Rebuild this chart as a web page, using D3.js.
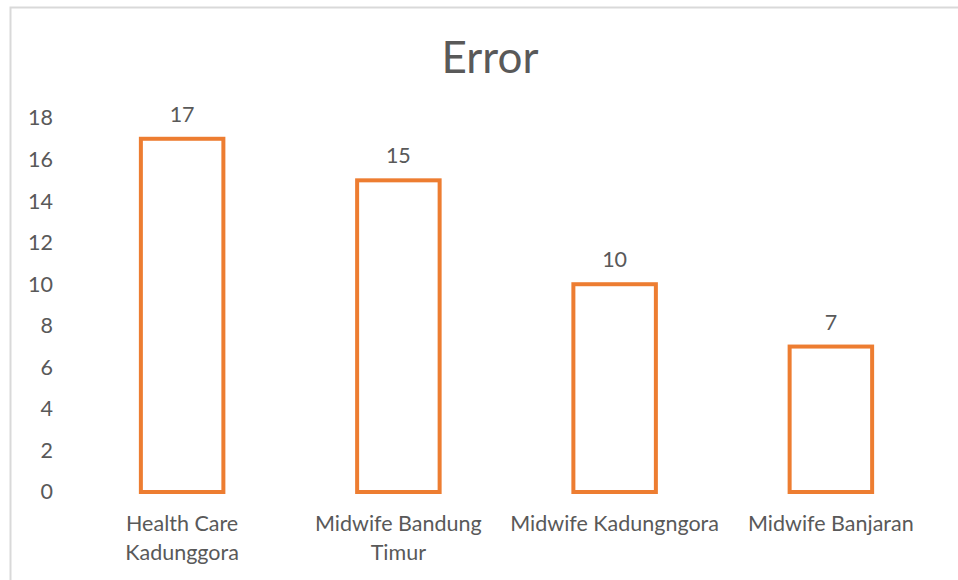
<!DOCTYPE html>
<html>
<head>
<meta charset="utf-8">
<script src="https://cdn.jsdelivr.net/npm/d3@7.9.0/dist/d3.min.js"></script>
<style>
  body { margin: 0; background: #fff; }
  svg text { font-family: Lato, "Open Sans", sans-serif; fill: #595959; }
</style>
</head>
<body>
<svg id="chart" width="958" height="580"></svg>
<script>
const categories = ["Health Care Kadunggora", "Midwife Bandung Timur", "Midwife Kadungngora", "Midwife Banjaran"];
const errors = [17, 15, 10, 7];
const yTicks = [0, 2, 4, 6, 8, 10, 12, 14, 16, 18];

const svg = d3.select("#chart");

// outer chart frame (only top/left edges are visible in the picture)
svg.append("rect")
  .attr("x", 10.5).attr("y", 7.5)
  .attr("width", 1000).attr("height", 700)
  .attr("fill", "#fff")
  .attr("stroke", "#d9d9d9")
  .attr("stroke-width", 2);

svg.append("text")
  .attr("x", 490).attr("y", 73)
  .attr("text-anchor", "middle")
  .style("font-size", "44px")
  .text("Error");

let x = d3.scaleBand()
  .domain(categories)
  .range([74, 939])
  .paddingInner(0.6)
  .paddingOuter(0.3);

let y = d3.scaleLinear()
  .domain([0, 18])
  .range([492, 118]);

// y axis labels, no line / ticks
let yAxis = svg.append("g")
  .attr("transform", "translate(53,0)")
  .call(d3.axisLeft(y).tickValues(yTicks).tickSize(0).tickPadding(0));
yAxis.select(".domain").remove();
yAxis.selectAll("text")
  .style("font-size", "21.5px")
  .style("font-family", "Lato, sans-serif")
  .attr("fill", "#595959");

// bars - outlined only
svg.selectAll("rect.bar")
  .data(errors)
  .join("rect")
  .attr("class", "bar")
  .attr("x", (d, i) => x(categories[i]) + 2)
  .attr("width", x.bandwidth() - 4)
  .attr("y", (d) => y(d))
  .attr("height", (d) => y(0) - y(d))
  .attr("fill", "none")
  .attr("stroke", "#ED7D31")
  .attr("stroke-width", 4);

// value labels
svg.selectAll("text.val")
  .data(errors)
  .join("text")
  .attr("class", "val")
  .attr("x", (d, i) => x(categories[i]) + x.bandwidth() / 2)
  .attr("y", (d) => y(d) - 17)
  .attr("text-anchor", "middle")
  .style("font-size", "21.5px")
  .text((d) => d);

// category labels, wrapped when wider than the band step
let catG = svg.selectAll("text.cat")
  .data(categories)
  .join("text")
  .attr("class", "cat")
  .attr("text-anchor", "middle")
  .style("font-size", "21.5px")
  .attr("x", (d) => x(d) + x.bandwidth() / 2)
  .attr("y", 531);

catG.each(function (d) {
  let t = d3.select(this);
  let cx = x(d) + x.bandwidth() / 2;
  t.text(d);
  if (this.getComputedTextLength() <= x.step()) return;
  let words = d.split(" ");
  let line = [], lines = [];
  t.text(null);
  let tmp = t.append("tspan");
  words.forEach((w) => {
    line.push(w);
    tmp.text(line.join(" "));
    if (tmp.node().getComputedTextLength() > x.step() - 10 && line.length > 1) {
      line.pop();
      lines.push(line.join(" "));
      line = [w];
    }
  });
  lines.push(line.join(" "));
  t.text(null);
  lines.forEach((l, i) => {
    t.append("tspan").attr("x", cx).attr("dy", i === 0 ? 0 : 29).text(l);
  });
});
</script>
</body>
</html>
